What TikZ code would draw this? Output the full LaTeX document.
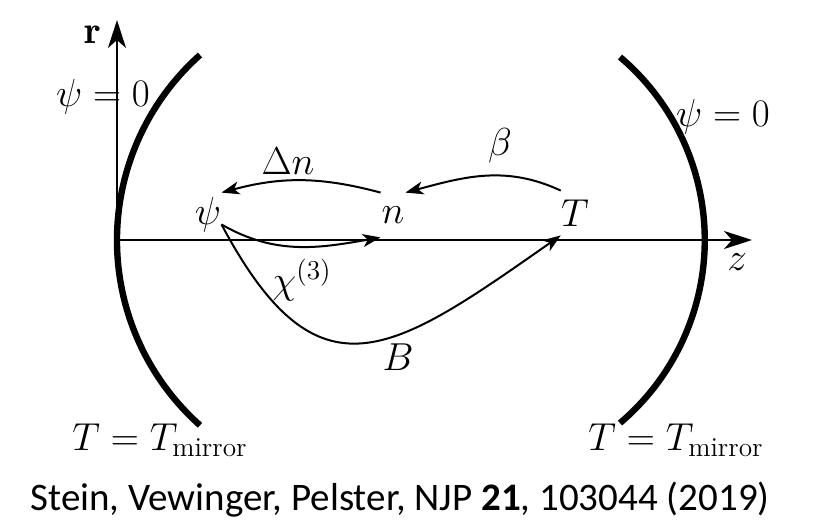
\RequirePackage{fix-cm}
\documentclass[tikz,border=0pt]{standalone}
\usepackage{fontspec}
\newfontfamily\captionfont{Carlito}
\usetikzlibrary{arrows.meta}

\begin{document}
\begin{tikzpicture}[
    x=0.5pt, y=0.5pt,
    every node/.style={font=\fontsize{19.5}{23}\selectfont},
    axis/.style={line width=1.3pt, -{Stealth[length=14pt, width=9pt, inset=4pt]}},
    mirror/.style={line width=3.2pt},
    flow/.style={line width=1pt, -{Stealth[length=9pt, width=6.5pt, inset=2.5pt]}},
    var/.style={inner sep=0pt, minimum width=12pt, minimum height=22pt},
    note/.style={inner sep=1pt}
]
\useasboundingbox (0,0) rectangle (815,-530);

%% -- axes --------------------------------------------------------------
\coordinate (origin) at (117,-240);
\coordinate (rtip)   at (117,-20);
\coordinate (ztip)   at (752,-240);
\draw[axis] (origin) -- (rtip);
\draw[axis] (origin) -- (ztip);
\node[note] (rlabel) at (93,-35)  {$\mathbf{r}$};
\node[note] (zlabel) at (737,-262) {$z$};

%% -- mirrors -----------------------------------------------------------
\draw[mirror] (200,-55) arc[start angle=131.7, end angle=228.3, radius=248];
\draw[mirror] (620,-57) arc[start angle=49.7, end angle=-49.7, radius=240];

% boundary conditions
\node[note] (psil) at (103,-97)  {$\psi = 0$};
\node[note] (psir) at (723,-117) {$\psi = 0$};
\node[note] (Tl)   at (160,-440) {$T = T_{\mathrm{mirror}}$};
\node[note] (Tr)   at (676,-440) {$T = T_{\mathrm{mirror}}$};

%% -- fields ------------------------------------------------------------
\node[var] (psi) at (208,-215) {$\psi$};
\node[var] (n)   at (393,-215) {$n$};
\node[var] (T)   at (575,-213) {$T$};

\draw[flow] (n.north west) to[out=165, in=15] (psi.north east);
\draw[flow] (T.north west) to[out=155, in=15] (n.north east);
\draw[flow] (psi.-35) to[out=-30, in=190] (n.south west);
\draw[flow] (psi.-35) to[out=-62, in=215, looseness=1.55] (T.south west);

\node[note] (dn)   at (288,-161) {$\Delta n$};
\node[note] (beta) at (500,-146) {$\beta$};
\node[note] (chi)  at (302,-280) {$\chi^{(3)}$};
\node[note] (B)    at (398,-357) {$B$};

%% -- reference ---------------------------------------------------------
\node[font=\captionfont\fontsize{19.5}{23}\selectfont] (ref) at (400,-500)
    {Stein, Vewinger, Pelster, NJP \textbf{21}, 103044 (2019)};

\end{tikzpicture}
\end{document}
